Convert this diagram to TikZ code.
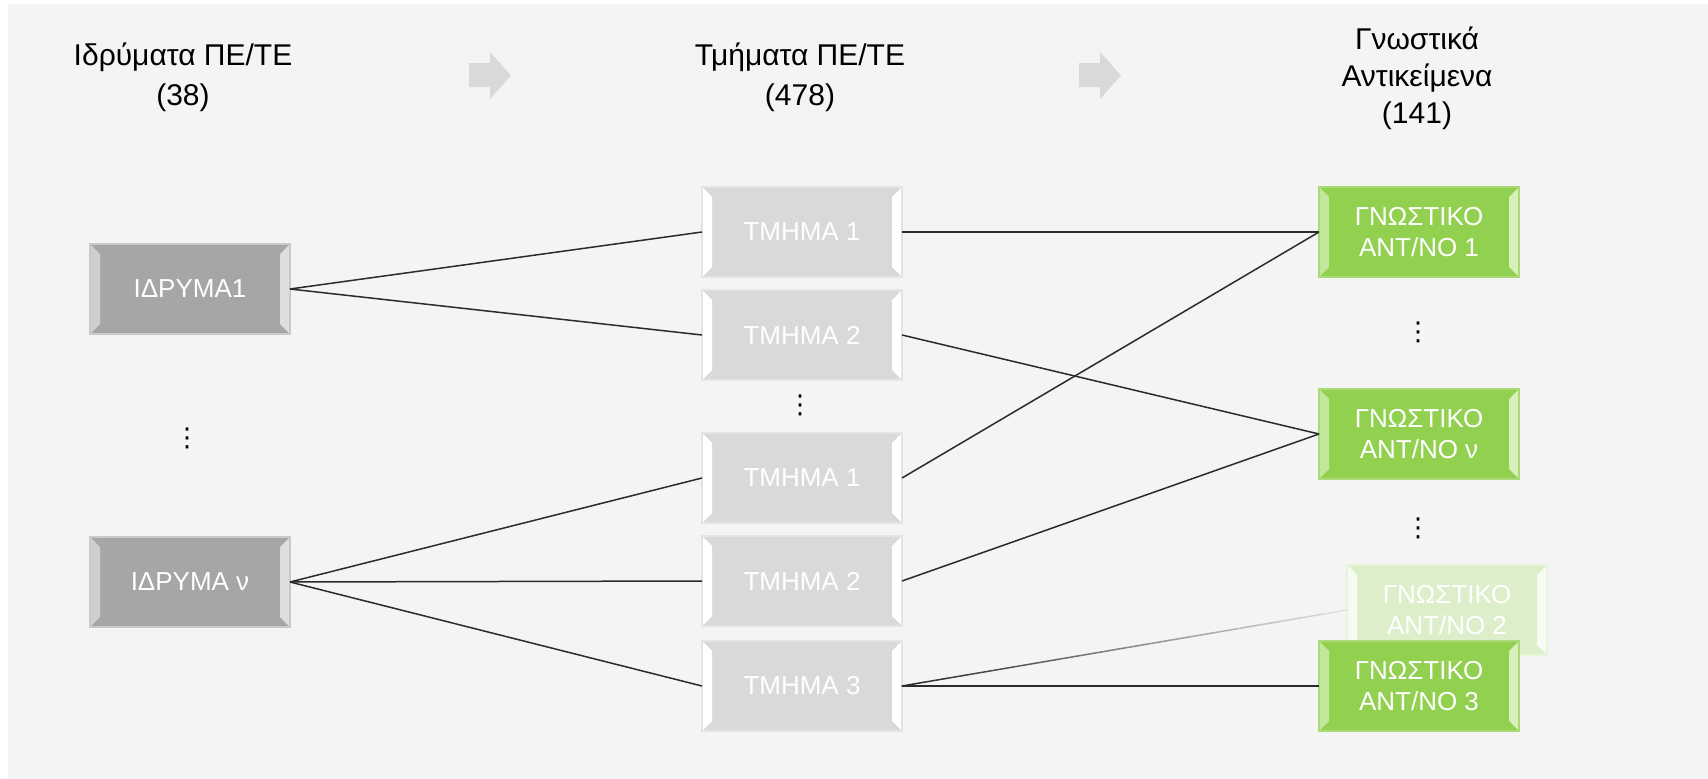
\documentclass[tikz,border=0pt]{standalone}
\usepackage{fontspec}
\setmainfont{Liberation Sans}
\newfontfamily\dotsfont{DejaVu Sans}
\usetikzlibrary{calc}
\definecolor{bg}{HTML}{F4F4F4}
\definecolor{linec}{HTML}{2B2B2B}
\definecolor{arrowc}{HTML}{D9D9D9}
\definecolor{gfill}{HTML}{A6A6A6}
\definecolor{gborder}{HTML}{C9C9C9}
\definecolor{gstripL}{HTML}{CFCFCF}
\definecolor{gstripR}{HTML}{DEDEDE}
\definecolor{tfill}{HTML}{D9D9D9}
\definecolor{tborder}{HTML}{E4E4E4}
\definecolor{tstrip}{HTML}{FFFFFF}
\definecolor{afill}{HTML}{92D050}
\definecolor{aborder}{HTML}{A9DA76}
\definecolor{astripL}{HTML}{C2E69C}
\definecolor{astripR}{HTML}{D6EFBC}
\definecolor{ffill}{HTML}{DCEFCA}
\definecolor{fborder}{HTML}{E6F4D8}
\definecolor{fstrip}{HTML}{F7FCF2}
\newcommand{\bevelbox}[4]{% name, strip left, strip right, border
  \fill[#2] (#1.north west) -- ($(#1.north west)+(10,10)$) -- ($(#1.south west)+(10,-10)$) -- (#1.south west) -- cycle;
  \fill[#3] (#1.north east) -- ($(#1.north east)+(-10,10)$) -- ($(#1.south east)+(-10,-10)$) -- (#1.south east) -- cycle;
  \draw[#4, line width=2] (#1.north west) rectangle (#1.south east);
}
\begin{document}
\begin{tikzpicture}[x=1pt,y=-1pt,
  boxbase/.style={minimum width=200, minimum height=90, inner sep=0, outer sep=0,
    text=white, align=center, font=\fontsize{26}{31}\selectfont},
  gbox/.style={boxbase, fill=gfill},
  tbox/.style={boxbase, fill=tfill},
  abox/.style={boxbase, fill=afill},
  fbox/.style={boxbase, fill=ffill},
  header/.style={align=center, text=black, font=\fontsize{30}{40}\selectfont},
  header3/.style={align=center, text=black, font=\fontsize{30}{37}\selectfont},
  dotsnode/.style={font=\dotsfont\fontsize{26}{26}\selectfont, text=black, inner sep=0},
  conn/.style={linec, line width=1.5},
  blockarrow/.style={fill=arrowc}
]
\useasboundingbox (0,0) rectangle (1708,779);
\fill[bg] (8,4) rectangle (1708,779);

% headers
\node[header] (h1) at (183,77) {Ιδρύματα ΠΕ/ΤΕ\\(38)};
\node[header] (h2) at (800,77) {Τμήματα ΠΕ/ΤΕ\\(478)};
\node[header3] (h3) at (1417,78) {Γνωστικά\\Αντικείμενα\\(141)};

% block arrows
\fill[blockarrow] (469,63) -- (490,63) -- (490,52) -- (511,75.5) -- (490,99) -- (490,87) -- (469,87) -- cycle;
\fill[blockarrow] (1079,63) -- (1100,63) -- (1100,52) -- (1121,75.5) -- (1100,99) -- (1100,87) -- (1079,87) -- cycle;

% boxes
\node[gbox] (i1) at (190,289) {ΙΔΡΥΜΑ1};
\bevelbox{i1}{gstripL}{gstripR}{gborder}
\node[gbox] (i2) at (190,582) {ΙΔΡΥΜΑ ν};
\bevelbox{i2}{gstripL}{gstripR}{gborder}

\node[tbox] (t1) at (802,232) {ΤΜΗΜΑ 1};
\bevelbox{t1}{tstrip}{tstrip}{tborder}
\node[tbox] (t2) at (802,335) {ΤΜΗΜΑ 2};
\bevelbox{t2}{tstrip}{tstrip}{tborder}
\node[tbox] (t3) at (802,478) {ΤΜΗΜΑ 1};
\bevelbox{t3}{tstrip}{tstrip}{tborder}
\node[tbox] (t4) at (802,581) {ΤΜΗΜΑ 2};
\bevelbox{t4}{tstrip}{tstrip}{tborder}
\node[tbox] (t5) at (802,686) {ΤΜΗΜΑ 3};
\bevelbox{t5}{tstrip}{tstrip}{tborder}

\node[abox] (a1) at (1419,232) {ΓΝΩΣΤΙΚΟ\\ΑΝΤ/ΝΟ 1};
\bevelbox{a1}{astripL}{astripR}{aborder}
\node[abox] (a2) at (1419,434) {ΓΝΩΣΤΙΚΟ\\ΑΝΤ/ΝΟ ν};
\bevelbox{a2}{astripL}{astripR}{aborder}
\node[fbox] (f2) at (1447,610) {ΓΝΩΣΤΙΚΟ\\ΑΝΤ/ΝΟ 2};
\bevelbox{f2}{fstrip}{fstrip}{fborder}
\node[abox] (a3) at (1419,686) {ΓΝΩΣΤΙΚΟ\\ΑΝΤ/ΝΟ 3};
\bevelbox{a3}{astripL}{astripR}{aborder}

% dots
\node[dotsnode] (d1) at (187,438) {⋮};
\node[dotsnode] (d2) at (800,405) {⋮};
\node[dotsnode] (d3) at (1418,332) {⋮};
\node[dotsnode] (d4) at (1418,528) {⋮};

% connectors
\draw[conn] (i1.east) -- (t1.west);
\draw[conn] (i1.east) -- (t2.west);
\draw[conn] (i2.east) -- (t3.west);
\draw[conn] (i2.east) -- (t4.west);
\draw[conn] (i2.east) -- (t5.west);
\draw[conn] (t1.east) -- (a1.west);
\draw[conn] (t2.east) -- (a2.west);
\draw[conn] (t3.east) -- (a1.west);
\draw[conn] (t4.east) -- (a2.west);
\draw[conn] (t5.east) -- (a3.west);
\foreach \i in {0,...,19} {
  \pgfmathsetmacro\sa{\i/20}
  \pgfmathsetmacro\sb{(\i+1)/20}
  \pgfmathsetmacro\sc{100-90*\i/19}
  \draw[line width=1.5, linec!\sc!bg, line cap=round] ($(t5.east)!\sa!(f2.west)$) -- ($(t5.east)!\sb!(f2.west)$);
}
\end{tikzpicture}
\end{document}
